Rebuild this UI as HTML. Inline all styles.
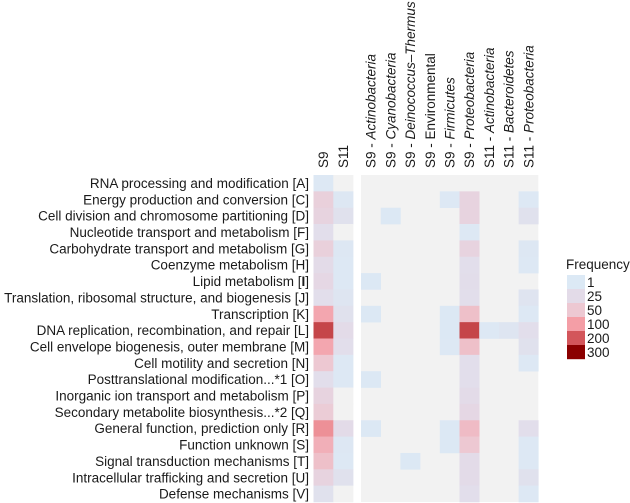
<!DOCTYPE html>
<html><head><meta charset="utf-8"><style>
body{margin:0;background:#fff;}
svg{display:block;font-family:"Liberation Sans",sans-serif;}
</style></head><body>
<svg id="chart" width="630" height="503" viewBox="0 0 630 503"></svg>
<script>
const rowLabels=["RNA processing and modification [A]","Energy production and conversion [C]","Cell division and chromosome partitioning [D]","Nucleotide transport and metabolism [F]","Carbohydrate transport and metabolism [G]","Coenzyme metabolism [H]","Lipid metabolism [I]","Translation, ribosomal structure, and biogenesis [J]","Transcription [K]","DNA replication, recombination, and repair [L]","Cell envelope biogenesis, outer membrane [M]","Cell motility and secretion [N]","Posttranslational modification...*1 [O]","Inorganic ion transport and metabolism [P]","Secondary metabolite biosynthesis...*2 [Q]","General function, prediction only [R]","Function unknown [S]","Signal transduction mechanisms [T]","Intracellular trafficking and secretion [U]","Defense mechanisms [V]"];
const leftCols=["S9","S11"];
const rightColPrefix=["S9 - ","S9 - ","S9 - ","S9 - ","S9 - ","S9 - ","S11 - ","S11 - ","S11 - "];
const rightColTaxa=["Actinobacteria","Cyanobacteria","Deinococcus–Thermus","Environmental","Firmicutes","Proteobacteria","Actinobacteria","Bacteroidetes","Proteobacteria"];
const rightColItalic=[true,true,true,false,true,true,true,true,true];
// values: [S9, S11]
const leftValues=[[3,0],[40,5],[35,15],[20,0],[40,5],[25,3],[30,3],[20,8],[90,15],[220,25],[90,20],[50,3],[20,3],[35,0],[45,0],[120,25],[80,5],[60,3],[35,15],[15,0]];
// values: 9 taxon columns
const rightValues=[
[0,0,0,0,0,0,0,0,0],
[0,0,0,0,3,35,0,0,3],
[0,2,0,0,0,35,0,0,15],
[0,0,0,0,0,3,0,0,0],
[0,0,0,0,0,35,0,0,5],
[0,0,0,0,0,20,0,0,3],
[2,0,0,0,0,22,0,0,0],
[0,0,0,0,0,20,0,0,10],
[2,0,0,0,2,60,0,0,3],
[0,0,0,0,2,220,3,8,20],
[0,0,0,0,3,60,0,0,15],
[0,0,0,0,0,20,0,0,3],
[2,0,0,0,0,20,0,0,0],
[0,0,0,0,0,25,0,0,0],
[0,0,0,0,0,30,0,0,0],
[2,0,0,0,2,65,0,0,20],
[0,0,0,0,2,50,0,0,3],
[0,0,2,0,0,25,0,0,3],
[0,0,0,0,0,25,0,0,15],
[0,0,0,0,0,20,0,0,3]];
const legendValues=[1,25,50,100,200,300];
const stopColors=["#dce9f5","#e3dbe8","#edc8d2","#f49ea6","#d3565b","#8b0000"];

const NS="http://www.w3.org/2000/svg";
const svg=document.getElementById("chart");
function mk(t,a){const e=document.createElementNS(NS,t);for(const k in a)e.setAttribute(k,a[k]);svg.appendChild(e);return e;}
function hex(c){return [1,3,5].map(i=>parseInt(c.substr(i,2),16));}
function color(v){
  if(!v)return "#f2f2f2";
  if(v<=legendValues[0])return stopColors[0];
  for(let i=1;i<legendValues.length;i++){
    if(v<=legendValues[i]){const t=(v-legendValues[i-1])/(legendValues[i]-legendValues[i-1]);
      const a=hex(stopColors[i-1]),b=hex(stopColors[i]);
      return "rgb("+a.map((x,j)=>Math.round(x+(b[j]-x)*t)).join(",")+")";}
  }
  return stopColors[stopColors.length-1];
}
const FS="13.5";
const top0=175,rowH=16.35;
const leftX0=313.5,leftW=19.8;
const rightX0=361,rightW=19.7;
const yRow=i=>top0+i*rowH;
const xLeft=j=>leftX0+j*leftW;
const xRight=j=>rightX0+j*rightW;

const bg=mk("rect",{x:rightX0,y:top0,width:rightW*9,height:rowH*20,fill:"#f2f2f2"});


const bgl=mk("rect",{x:leftX0,y:top0,width:leftW*2,height:rowH*20,fill:"#f2f2f2"});



rowLabels.forEach((lab,i)=>{
  const t=mk("text",{x:309,y:yRow(i)+rowH/2+4.8,"text-anchor":"end","font-size":FS,fill:"#1a1a1a"});
  
  
  if(i===6){t.innerHTML='Lipid metabolism [<tspan font-weight="bold">I</tspan>]';}else t.textContent=lab;
  leftValues[i].forEach((v,j)=>{
    const r=mk("rect",{x:xLeft(j),y:yRow(i),width:leftW+0.3,height:rowH+0.3,fill:color(v)});
    
    
  });
  rightValues[i].forEach((v,j)=>{
    if(!v)return;
    const r=mk("rect",{x:xRight(j),y:yRow(i),width:rightW+0.3,height:rowH+0.3,fill:color(v)});
    
    
  });
});
leftCols.forEach((c,j)=>{
  const x=xLeft(j)+leftW/2+4.8;
  const t=mk("text",{x:x,y:168,transform:`rotate(-90 ${x} 168)`,"font-size":FS,fill:"#1a1a1a"});
  
  
  t.textContent=c;
});
rightColTaxa.forEach((c,j)=>{
  const x=xRight(j)+rightW/2+4.8;
  const t=mk("text",{x:x,y:168,transform:`rotate(-90 ${x} 168)`,"font-size":FS,fill:"#1a1a1a"});
  
  
  t.innerHTML=rightColPrefix[j]+(rightColItalic[j]?'<tspan font-style="italic">'+c+'</tspan>':c);
});
const lt=mk("text",{x:566,y:269,"font-size":FS,fill:"#1a1a1a"});


lt.textContent="Frequency";
legendValues.forEach((v,i)=>{
  const y=275+i*14;
  const r=mk("rect",{x:567,y:y,width:18,height:14.2,fill:color(v)});
  
  
  const t=mk("text",{x:587,y:y+12,"font-size":FS,fill:"#1a1a1a"});
  
  
  t.textContent=v;
});
</script>
</body></html>
